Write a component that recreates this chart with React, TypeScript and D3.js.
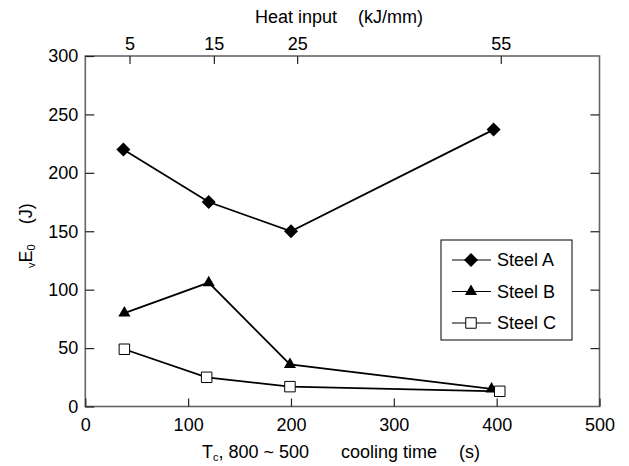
import { useEffect, useRef } from "react";
import * as d3 from "d3";

const WIDTH = 629;
const HEIGHT = 466;
const PLOT = { left: 85.3, right: 599.5, top: 56, bottom: 406.5 };
const FONT = "'Liberation Sans', Arial, sans-serif";

// cooling time (s) and absorbed energy vE0 (J) for each steel
const seriesNames = ["Steel A", "Steel B", "Steel C"];
const steelATime = [37, 120, 200, 397];
const steelAEnergy = [220, 175, 150, 237];
const steelBTime = [38, 120, 199, 395];
const steelBEnergy = [80, 106, 36, 15];
const steelCTime = [38, 118, 199, 403];
const steelCEnergy = [49, 25, 17, 13];

const xTicks = [0, 100, 200, 300, 400, 500];
const yTicks = [0, 50, 100, 150, 200, 250, 300];
const heatInputLabels = ["5", "15", "25", "55"];
const heatInputAt = [43, 125, 206, 404]; // position on the cooling time axis

type Pt = { t: number; e: number };
const zip = (t: number[], e: number[]): Pt[] => t.map((v, i) => ({ t: v, e: e[i] }));

const series = [
  { name: seriesNames[0], points: zip(steelATime, steelAEnergy), marker: "diamond" },
  { name: seriesNames[1], points: zip(steelBTime, steelBEnergy), marker: "triangle" },
  { name: seriesNames[2], points: zip(steelCTime, steelCEnergy), marker: "square" },
];

const Marker = ({ kind, x, y }: { kind: string; x: number; y: number }) => {
  if (kind === "diamond") {
    const p = d3.symbol(d3.symbolSquare, 98)();
    return <path d={p || ""} transform={`translate(${x},${y}) rotate(45)`} fill="#000" />;
  }
  if (kind === "triangle") {
    const p = d3.symbol(d3.symbolTriangle, 64)();
    return <path d={p || ""} transform={`translate(${x},${y})`} fill="#000" />;
  }
  const p = d3.symbol(d3.symbolSquare, 110)();
  return <path d={p || ""} transform={`translate(${x},${y})`} fill="#fff" stroke="#000" strokeWidth={1} />;
};

const App = () => {
  const axesRef = useRef<SVGGElement>(null);

  const x = d3.scaleLinear().domain([0, 500]).range([PLOT.left, PLOT.right]);
  const y = d3.scaleLinear().domain([0, 300]).range([PLOT.bottom, PLOT.top]);

  const line = d3
    .line<Pt>()
    .x((d) => x(d.t))
    .y((d) => y(d.e));

  useEffect(() => {
    const g = d3.select(axesRef.current);
    g.selectAll("*").remove();

    const style = (sel: any) => {
      sel.select(".domain").remove();
      sel.selectAll(".tick line").attr("stroke", "#222").attr("stroke-width", 1.2);
      sel.selectAll(".tick text").attr("fill", "#000").style("font-family", FONT).style("font-size", "18px");
    };

    g.append("g")
      .attr("transform", `translate(0,${PLOT.bottom})`)
      .call(d3.axisBottom(x).tickValues(xTicks).tickSize(-8).tickPadding(12).tickFormat(d3.format("d")))
      .call(style);

    g.append("g")
      .attr("transform", `translate(${PLOT.left},0)`)
      .call(d3.axisLeft(y).tickValues(yTicks).tickSize(-9).tickPadding(7).tickFormat(d3.format("d")))
      .call(style);

    g.append("g")
      .attr("transform", `translate(${PLOT.right},0)`)
      .call(d3.axisRight(y).tickValues(yTicks.slice(1, -1)).tickSize(-9).tickFormat(() => ""))
      .call(style);

    g.append("g")
      .attr("transform", `translate(0,${PLOT.top})`)
      .call(
        d3
          .axisTop(x)
          .tickValues(heatInputAt)
          .tickSize(-8)
          .tickPadding(6)
          .tickFormat((_, i) => heatInputLabels[i])
      )
      .call(style);
  }, []);

  return (
    <svg
      width={WIDTH}
      height={HEIGHT}
      style={{ position: "absolute", left: 0, top: 0, background: "#fff" }}
      fontFamily={FONT}
    >
      <rect x={0} y={0} width={WIDTH} height={HEIGHT} fill="#fff" />

      {/* frame */}
      <rect
        x={PLOT.left}
        y={PLOT.top}
        width={PLOT.right - PLOT.left}
        height={PLOT.bottom - PLOT.top}
        fill="none"
        stroke="#666"
        strokeWidth={1.6}
      />
      <g ref={axesRef} />

      {/* series */}
      {series.map((s) => (
        <path key={s.name} d={line(s.points) || ""} fill="none" stroke="#000" strokeWidth={1.8} />
      ))}
      {series.map((s) =>
        s.points.map((p, i) => <Marker key={s.name + i} kind={s.marker} x={x(p.t)} y={y(p.e)} />)
      )}

      {/* legend */}
      <g>
        <rect x={441} y={240} width={131} height={100} fill="#fff" stroke="#000" strokeWidth={1} />
        {series.map((s, i) => {
          const ly = 260 + i * 31.5;
          return (
            <g key={s.name}>
              <line x1={452} x2={491} y1={ly} y2={ly} stroke="#000" strokeWidth={1} />
              <Marker kind={s.marker} x={471} y={ly} />
              <text x={497} y={ly} dy="0.35em" fontSize={18}>
                {s.name}
              </text>
            </g>
          );
        })}
      </g>

      {/* top title */}
      <text x={255} y={23} fontSize={18}>
        Heat input
      </text>
      <text x={358} y={23} fontSize={18}>
        (kJ/mm)
      </text>

      {/* bottom title */}
      <text x={202} y={458} fontSize={18}>
        T<tspan fontSize={11} dy={3}>c</tspan>
        <tspan dy={-3}>, 800 ~ 500</tspan>
      </text>
      <text x={341} y={458} fontSize={18}>
        cooling time
      </text>
      <text x={459} y={458} fontSize={18}>
        (s)
      </text>

      {/* y title */}
      <g transform="translate(32,268) rotate(-90)">
        <text x={0} y={0} fontSize={18}>
          <tspan fontSize={11} dy={3}>v</tspan>
          <tspan dy={-3}>E</tspan>
          <tspan fontSize={11} dy={3}>0</tspan>
          <tspan dy={-3} dx={20}>(J)</tspan>
        </text>
      </g>
    </svg>
  );
};

export default App;
